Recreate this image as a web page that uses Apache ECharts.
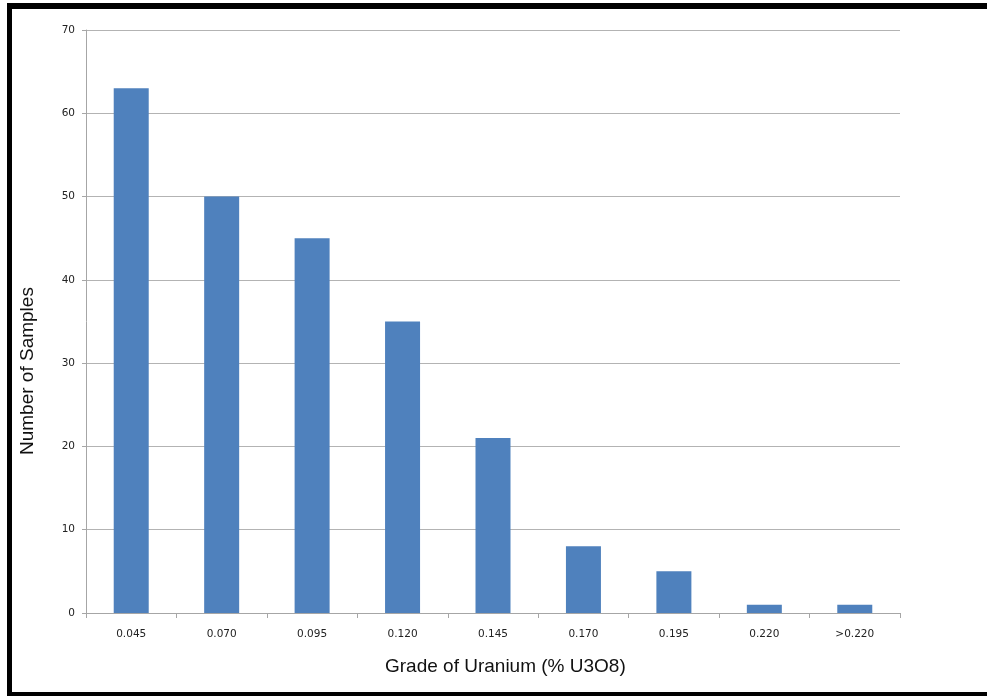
<!DOCTYPE html>
<html>
<head>
<meta charset="utf-8">
<script src="https://cdn.jsdelivr.net/npm/echarts@6/dist/echarts.min.js"></script>
<style>
html,body{margin:0;padding:0;background:#fff;}
#chart{width:987px;height:696px;}
</style>
</head>
<body>
<div id="chart"></div>
<script>
const categories = ['0.045','0.070','0.095','0.120','0.145','0.170','0.195','0.220','>0.220'];
const samples = [63, 50, 45, 35, 21, 8, 5, 1, 1];
const yTicks = [0, 10, 20, 30, 40, 50, 60, 70];
const xTitle = 'Grade of Uranium (% U3O8)';
const yTitle = 'Number of Samples';

const chart = echarts.init(document.getElementById('chart'), null, {renderer: 'canvas'});
chart.setOption({
  backgroundColor: '#ffffff',
  animation: false,
  grid: {left: 86, right: 87, top: 30, bottom: 83, containLabel: false},
  xAxis: {
    type: 'category',
    data: categories,
    axisLine: {lineStyle: {color: '#a6a6a6', width: 1}},
    axisTick: {show: true, alignWithLabel: false, length: 5, lineStyle: {color: '#a6a6a6'}},
    axisLabel: {fontFamily: 'DejaVu Sans', fontSize: 10.5, color: '#222', margin: 16, interval: 0}
  },
  yAxis: {
    type: 'value',
    min: yTicks[0],
    max: yTicks[yTicks.length - 1],
    interval: 10,
    axisLine: {show: true, lineStyle: {color: '#a6a6a6', width: 1}},
    axisTick: {show: true, length: 4, lineStyle: {color: '#a6a6a6'}},
    axisLabel: {fontFamily: 'DejaVu Sans', fontSize: 10.5, color: '#222', margin: 11},
    splitLine: {show: true, lineStyle: {color: '#b3b3b3', width: 1}}
  },
  series: [{
    type: 'bar',
    data: samples,
    barWidth: 35,
    itemStyle: {color: '#4f81bd'}
  }],
  graphic: [
    {type: 'text', left: 385, top: 657, style: {text: xTitle, font: '19px "Liberation Sans"', fill: '#111'}},
    {type: 'text', x: 18, y: 455, rotation: Math.PI / 2, style: {text: yTitle, font: '19px "Liberation Sans"', fill: '#111', textAlign: 'left', textVerticalAlign: 'top'}},
    {type: 'rect', shape: {x: 7, y: 3, width: 980, height: 6}, style: {fill: '#000'}, z: 100},
    {type: 'rect', shape: {x: 7, y: 3, width: 5, height: 693}, style: {fill: '#000'}, z: 100},
    {type: 'rect', shape: {x: 7, y: 692, width: 980, height: 4}, style: {fill: '#000'}, z: 100}
  ]
});
</script>
</body>
</html>
